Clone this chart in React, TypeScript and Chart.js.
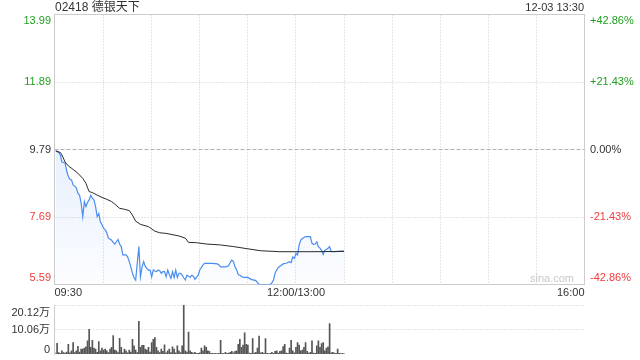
import React, { useEffect, useRef } from 'react';
import { Chart, registerables } from 'chart.js';

Chart.register(...registerables);

const FONT = '"Liberation Sans", Arial, "Noto Sans CJK SC", sans-serif';

const stockTitle = '02418 德银天下';
const stampText = '12-03 13:30';
const prevClose = 9.79;
const priceTicks = [13.99, 11.89, 9.79, 7.69, 5.59];
const percentTicks = ['+42.86%', '+21.43%', '0.00%', '-21.43%', '-42.86%'];
const gridMinutes = [30, 60, 90, 120, 150, 180, 210, 240, 270, 300];
const timeLabelMinutes = [0, 150, 330];
const timeLabels = ['09:30', '12:00/13:00', '16:00'];

// minutes since 09:30 (trading minutes, lunch removed)
const priceMinutes = [
  0, 2, 3, 4, 6, 7, 8, 9, 10, 11, 12, 13, 14, 15, 16, 17, 18, 19, 20, 21, 22, 23, 24, 25, 26, 27, 28, 29, 30,
  31, 32, 33, 35, 36, 37, 38, 39, 40, 41, 42, 44, 45, 46, 47, 48, 49, 50, 51, 52, 53, 54, 55, 56, 57, 58, 59,
  60, 61, 62, 63, 64, 65, 66, 67, 68, 69, 70, 71, 72, 73, 74, 75, 76, 77, 78, 79, 80, 81, 82, 83, 84, 85, 86,
  87, 88, 89, 90, 91, 92, 93, 95, 98, 101, 102, 103, 106, 108, 109, 110, 111, 112, 113, 114, 115, 117, 120,
  122, 125, 126, 127, 134, 135, 136, 137, 138, 139, 140, 142, 144, 146, 147, 148, 149, 150, 151, 152, 153,
  154, 156, 159, 160, 161, 162, 163, 164, 165, 166, 167, 168, 169, 170, 171, 172, 175, 178, 180,
];
const prices = [
  9.76, 9.7, 9.62, 9.41, 9.36, 9.12, 8.95, 8.86, 8.84, 8.69, 8.65, 8.6, 8.43, 8.37, 8.12, 7.7, 8.17, 8.01, 8.15,
  8.22, 8.37, 8.28, 8.22, 8.01, 7.7, 7.8, 7.54, 7.45, 7.34,
  7.29, 7.2, 7.03, 6.97, 6.9, 6.85, 6.92, 6.99, 6.85, 6.77, 6.51, 6.51, 6.45, 6.3, 6.14, 5.94, 5.8, 5.73, 6.25,
  6.77, 5.83, 6.14, 6.3, 6.15, 6.09, 6.04, 6.04,
  5.83, 6.04, 6.01, 5.99, 6.04, 6.02, 5.94, 5.99, 5.99, 5.83, 6.04, 5.9, 5.78, 5.99, 5.81, 6.04, 5.81, 5.94, 5.94,
  5.88, 5.8, 5.73, 5.88, 5.85, 5.81, 5.88, 5.85,
  5.75, 5.82, 5.88, 6.04, 6.12, 6.2, 6.25, 6.25, 6.25, 6.23, 6.2, 6.14, 6.14, 6.17, 6.28, 6.35, 6.3, 6.14, 6.05,
  5.9, 5.88, 5.81, 5.81,
  5.75, 5.71, 5.65, 5.59, 5.59, 5.65, 5.73, 5.95, 6.04, 6.12, 6.16, 6.23, 6.25, 6.3, 6.27, 6.45, 6.4, 6.56, 6.51,
  6.82, 6.97,
  7.02, 7.08, 7.08, 6.87, 6.84, 6.85, 6.92, 6.77, 6.72, 6.65, 6.53, 6.66, 6.68, 6.72, 6.77, 6.61, 6.61, 6.63, 6.63,
];

const avgMinutes = [
  0, 3, 4, 6, 8, 11, 14, 17, 19, 20, 21, 23, 26, 29, 32, 35, 37, 40, 43, 46, 48, 50, 53, 58, 62, 65, 69, 77, 81,
  83, 88, 94, 103, 111, 120, 128, 140, 150, 160, 180,
];
const avgPrices = [
  9.74, 9.7, 9.62, 9.4, 9.28, 9.17, 9.05, 8.89, 8.74, 8.6, 8.48, 8.45, 8.37, 8.3, 8.24, 8.17, 8.09, 7.96, 7.93,
  7.89, 7.75, 7.56, 7.46, 7.39, 7.25, 7.2, 7.18, 7.1, 7.03,
  6.9, 6.89, 6.85, 6.82, 6.77, 6.7, 6.64, 6.61, 6.61, 6.61, 6.62,
];

// volume per minute (万股), index = minutes since 09:30
const volumes = [
  0.5, 4.4, 0.6, 0.3, 1.3, 0.6, 0.4, 0.8, 4.0, 0.5,
  1.3, 4.7, 0.6, 1.3, 3.1, 0.8, 2.0, 2.0, 2.4, 2.9,
  5.4, 10.1, 2.7, 5.6, 2.4, 2.0, 0.7, 5.1, 1.3, 2.4,
  1.6, 2.0, 1.3, 0.6, 2.0, 2.7, 7.6, 1.6, 1.3, 0.6,
  6.4, 2.7, 0.5, 2.0, 1.3, 0.5, 1.6, 0.8, 6.0, 3.4,
  1.6, 0.6, 13.4, 2.7, 3.6, 3.6, 2.0, 1.6, 2.7, 0.8,
  4.7, 6.0, 6.7, 2.7, 1.3, 0.6, 2.0, 1.1, 3.8, 0.5,
  1.3, 2.0, 0.6, 2.9, 2.0, 0.5, 3.4, 1.3, 0.6, 3.4,
  20.12, 1.3, 0.8, 9.0, 1.3, 0.7, 0.4, 0.7, 0.3, 0.3,
  0.5, 2.4, 1.3, 3.4, 2.7, 1.3, 1.1, 0.3, 0.3, 0.2,
  0.3, 0.2, 0.3, 5.6, 0.3, 0.2, 0.7, 0.3, 0.4, 0.7,
  1.1, 0.5, 1.1, 1.3, 4.0, 6.0, 2.7, 3.7, 8.7, 4.0,
  3.7, 0.4, 0.3, 6.3, 0.4, 0.7, 2.4, 7.4, 0.5, 0.7,
  0.3, 6.3, 0.3, 0.2, 0.3, 0.7, 0.3, 1.1, 1.3, 0.4,
  1.1, 1.3, 3.0, 4.0, 0.4, 0.3, 2.4, 5.6, 1.3, 0.5,
  2.7, 4.7, 3.7, 1.3, 1.6, 2.7, 4.7, 1.1, 0.4, 0.7,
  5.4, 0.4, 0.3, 3.4, 5.4, 2.7, 4.3, 4.7, 1.3, 2.4,
  2.9, 12.5, 0.5, 0.7, 0.4, 0.3, 2.0, 0.3, 0.2, 0.3,
  0.1,
];
const volumeTicks = [20.12, 10.06, 0];
const volumeTickLabels = ['20.12万', '10.06万', '0'];

const GREEN = '#1f9f1f';
const RED = '#f03c3c';
const DARK = '#333333';
const BLUE = '#4a8cf0';

const tickColor = (v: number) => (v > prevClose ? GREEN : v < prevClose ? RED : DARK);
const px = (v: number) => Math.floor(v) + 0.5;

function hLine(ctx: CanvasRenderingContext2D, x1: number, x2: number, y: number) {
  ctx.beginPath();
  ctx.moveTo(x1, y);
  ctx.lineTo(x2, y);
  ctx.stroke();
}
function vLine(ctx: CanvasRenderingContext2D, x: number, y1: number, y2: number) {
  ctx.beginPath();
  ctx.moveTo(x, y1);
  ctx.lineTo(x, y2);
  ctx.stroke();
}

const priceDeco = {
  id: 'priceDeco',
  beforeDatasetsDraw(chart: any) {
    const { ctx, chartArea: a, scales } = chart;
    const x = scales.x;
    const y = scales.y;
    const L = px(a.left) - 1;
    const R = px(a.right);
    const T = px(a.top);
    const B = px(a.bottom);
    ctx.save();
    ctx.lineWidth = 1;
    ctx.strokeStyle = '#cccccc';
    ctx.setLineDash([1, 2]);
    for (const m of gridMinutes) vLine(ctx, px(x.getPixelForValue(m)), T, B);
    for (const v of priceTicks) {
      if (v === prevClose || v === priceTicks[0] || v === priceTicks[priceTicks.length - 1]) continue;
      hLine(ctx, L, R, px(y.getPixelForValue(v)));
    }
    ctx.strokeStyle = '#b0b0b0';
    ctx.setLineDash([4, 2]);
    hLine(ctx, L, R, px(y.getPixelForValue(prevClose)));
    ctx.setLineDash([]);
    ctx.strokeStyle = '#cccccc';
    ctx.strokeRect(L, T, R - L, B - T);
    ctx.restore();
  },
  afterDraw(chart: any) {
    const { ctx, chartArea: a, scales } = chart;
    const x = scales.x;
    const y = scales.y;
    ctx.save();
    ctx.textBaseline = 'middle';
    ctx.font = `12px ${FONT}`;
    ctx.fillStyle = DARK;
    ctx.textAlign = 'left';
    ctx.fillText(stockTitle, 55, 8);
    ctx.font = `11px ${FONT}`;
    ctx.textAlign = 'right';
    ctx.fillText(stampText, 584, 8);

    priceTicks.forEach((v, i) => {
      const off = i === 0 ? 6 : i === priceTicks.length - 1 ? -6.5 : 0;
      const yy = y.getPixelForValue(v) + off;
      ctx.fillStyle = tickColor(v);
      ctx.textAlign = 'right';
      ctx.fillText(v.toFixed(2), 51, yy);
      ctx.textAlign = 'left';
      ctx.fillText(percentTicks[i], 590, yy);
    });

    ctx.fillStyle = DARK;
    timeLabelMinutes.forEach((m, i) => {
      const xx = x.getPixelForValue(m);
      ctx.textAlign = i === 0 ? 'left' : i === timeLabelMinutes.length - 1 ? 'right' : 'center';
      ctx.fillText(timeLabels[i], i === 0 ? a.left - 1 : xx, 293);
    });

    ctx.fillStyle = '#c8c8c8';
    ctx.textAlign = 'right';
    ctx.fillText('sina.com', 574, 279);
    ctx.restore();
  },
};

const volumeDeco = {
  id: 'volumeDeco',
  beforeDatasetsDraw(chart: any) {
    const { ctx, chartArea: a, scales } = chart;
    const y = scales.y;
    const L = px(a.left) - 1;
    const R = px(a.right);
    ctx.save();
    ctx.lineWidth = 1;
    ctx.strokeStyle = '#cccccc';
    ctx.setLineDash([1, 2]);
    for (const v of volumeTicks) {
      if (v === 0) continue;
      hLine(ctx, L, R, px(y.getPixelForValue(v)));
    }
    ctx.setLineDash([]);
    vLine(ctx, L, px(a.top), px(a.bottom));
    ctx.restore();
  },
  afterDraw(chart: any) {
    const { ctx, scales } = chart;
    const y = scales.y;
    ctx.save();
    ctx.font = `11px ${FONT}`;
    ctx.textBaseline = 'middle';
    ctx.textAlign = 'right';
    ctx.fillStyle = DARK;
    volumeTicks.forEach((v, i) => {
      const off = i === 0 ? 7.5 : i === volumeTicks.length - 1 ? -4 : 0;
      ctx.fillText(volumeTickLabels[i], 50, y.getPixelForValue(v) + off);
    });
    ctx.restore();
  },
};

export default function App() {
  const priceRef = useRef<HTMLCanvasElement>(null);
  const volRef = useRef<HTMLCanvasElement>(null);

  useEffect(() => {
    const priceChart = new Chart(priceRef.current as HTMLCanvasElement, {
      type: 'line',
      data: {
        datasets: [
          {
            label: 'avg',
            data: avgMinutes.map((m, i) => ({ x: m, y: avgPrices[i] })),
            borderColor: '#2b2b2b',
            borderWidth: 1,
            pointRadius: 0,
            fill: false,
            tension: 0,
          },
          {
            label: 'price',
            data: priceMinutes.map((m, i) => ({ x: m, y: prices[i] })),
            borderColor: BLUE,
            borderWidth: 1.2,
            pointRadius: 0,
            tension: 0,
            fill: 'start',
            backgroundColor: (c: any) => {
              const a = c.chart.chartArea;
              if (!a) return 'rgba(74,140,240,0.1)';
              const g = c.chart.ctx.createLinearGradient(0, a.top, 0, a.bottom);
              g.addColorStop(0, 'rgba(74,140,240,0.24)');
              g.addColorStop(1, 'rgba(74,140,240,0.02)');
              return g;
            },
          },
        ],
      },
      options: {
        responsive: false,
        animation: false,
        events: [],
        layout: { padding: { left: 55.5, right: 55.5, top: 14.5, bottom: 15.5 } },
        scales: {
          x: { type: 'linear', min: 0, max: 330, display: false },
          y: { type: 'linear', min: 5.59, max: 13.99, display: false },
        },
        plugins: { legend: { display: false }, tooltip: { enabled: false } },
      },
      plugins: [priceDeco],
    } as any);

    const volChart = new Chart(volRef.current as HTMLCanvasElement, {
      type: 'bar',
      data: {
        datasets: [
          {
            label: 'volume',
            data: volumes.map((v, i) => ({ x: i, y: v })),
            backgroundColor: '#555555',
            barThickness: 1,
            borderWidth: 0,
          },
        ],
      },
      options: {
        responsive: false,
        animation: false,
        events: [],
        layout: { padding: { left: 55.5, right: 55.5, top: 5, bottom: 6 } },
        scales: {
          x: { type: 'linear', min: 0, max: 330, display: false, offset: false },
          y: { type: 'linear', min: 0, max: 20.12, display: false },
        },
        plugins: { legend: { display: false }, tooltip: { enabled: false } },
      },
      plugins: [volumeDeco],
    } as any);

    return () => {
      priceChart.destroy();
      volChart.destroy();
    };
  }, []);

  return (
    <div style={{ position: 'absolute', left: 0, top: 0, width: 640, height: 360, background: '#fff' }}>
      <canvas ref={priceRef} width={640} height={300} style={{ display: 'block', position: 'absolute', left: 0, top: 0 }} />
      <canvas ref={volRef} width={640} height={60} style={{ display: 'block', position: 'absolute', left: 0, top: 300 }} />
    </div>
  );
}
